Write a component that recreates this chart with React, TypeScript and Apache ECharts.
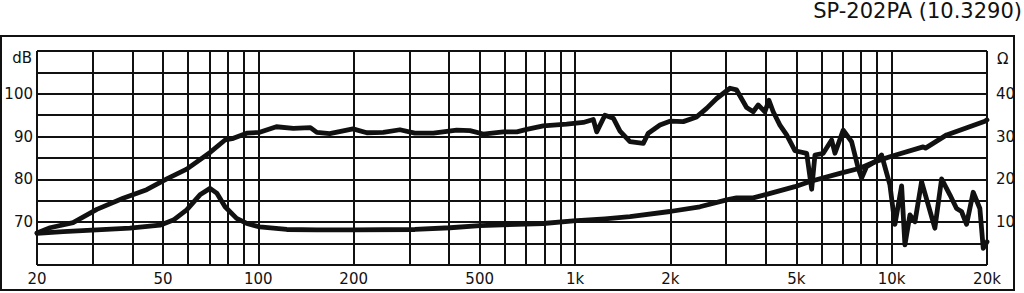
import React, { useEffect, useRef } from "react";
import * as echarts from "echarts";

const TITLE = "SP-202PA (10.3290)";

// Frequency response (dB): [Hz, dB]
const splFreq = [20, 22, 26, 30.9, 37.4, 44.4, 51.4, 59.4, 70.4, 78.5, 83.4, 91.9, 101, 114, 129, 146, 153, 168, 199, 220, 248, 280, 312, 357, 423, 466, 513, 594, 655, 704, 794, 941, 1062, 1142, 1171, 1243, 1321, 1387, 1491, 1643, 1704, 1855, 1994, 2197, 2421, 2604, 2801, 3086, 3238, 3482, 3654, 3789, 3978, 4096, 4226, 4437, 4659, 4948, 5390, 5589, 5725, 6081, 6463, 6620, 7031, 7473, 7840, 8037, 8334, 8852, 9294, 9873, 10239, 10750, 11011, 11420, 11843, 12430, 13690, 14375, 15270, 16030, 16620, 17240, 18090, 18990, 19460, 20000];
const splDb = [67.5, 68.7, 69.9, 73.0, 75.6, 77.6, 80.1, 82.4, 86.3, 89.2, 89.6, 90.8, 91.0, 92.3, 91.9, 92.1, 91.0, 90.7, 91.8, 90.9, 91.0, 91.6, 90.8, 90.8, 91.5, 91.4, 90.6, 91.1, 91.1, 91.7, 92.5, 92.9, 93.3, 94.0, 91.1, 95.0, 94.3, 91.3, 88.8, 88.4, 90.8, 92.7, 93.6, 93.5, 94.6, 96.6, 98.9, 101.3, 100.9, 96.8, 95.8, 97.4, 95.8, 98.5, 95.8, 92.7, 90.4, 86.7, 86.1, 77.7, 85.7, 86.1, 89.2, 86.1, 91.5, 88.8, 82.6, 80.3, 83.0, 84.1, 85.7, 78.7, 69.5, 78.5, 64.7, 71.7, 70.1, 79.5, 68.6, 80.1, 76.4, 73.2, 72.5, 69.5, 77.0, 73.2, 63.9, 65.4];

// Impedance (Ω): [Hz, Ω]
const impFreq = [20, 24.2, 30.9, 39.3, 48.9, 53.9, 59.4, 65.4, 70.4, 73.9, 78.5, 85.4, 91.9, 101, 123, 153, 199, 312, 403, 501, 794, 988, 1243, 1491, 1994, 2480, 3013, 3238, 3654, 4027, 4948, 5519, 6862, 7936, 8830, 9873, 12570, 12790, 14910, 19700, 20000];
const impOhm = [7.4, 7.8, 8.2, 8.6, 9.3, 10.5, 12.9, 16.4, 17.9, 16.8, 13.6, 10.9, 9.7, 8.9, 8.3, 8.2, 8.2, 8.3, 8.7, 9.2, 9.7, 10.3, 10.8, 11.3, 12.5, 13.6, 15.2, 15.7, 15.7, 16.5, 18.3, 19.5, 21.4, 22.6, 24.1, 25.3, 27.6, 27.3, 30.4, 33.6, 33.9];

// Grid lines and tick labels
const gridFreqs = [20, 30, 40, 50, 60, 70, 80, 90, 100, 200, 300, 400, 500, 600, 700, 800, 900, 1000, 2000, 3000, 4000, 5000, 6000, 7000, 8000, 9000, 10000, 20000];
const xTickFreqs = [20, 50, 100, 200, 500, 1000, 2000, 5000, 10000, 20000];
const xTickLabels = ["20", "50", "100", "200", "500", "1k", "2k", "5k", "10k", "20k"];
const dbTicks = [70, 80, 90, 100];
const ohmTicks = [10, 20, 30, 40];

const INK = "#111111";
const FONT = "DejaVu Sans";

export default function App() {
  const ref = useRef<HTMLDivElement>(null);
  useEffect(() => {
    if (!ref.current) return;
    const chart = echarts.init(ref.current, null, { renderer: "svg" });
    const gridLineData = gridFreqs.map((f) => {
      const idx = xTickFreqs.indexOf(f);
      return {
        xAxis: f,
        label: idx >= 0
          ? { show: true, position: "start", formatter: xTickLabels[idx], color: INK, fontSize: 15, fontFamily: FONT, distance: 6 }
          : { show: false },
      };
    });
    chart.setOption({
      animation: false,
      textStyle: { fontFamily: FONT },
      grid: { left: 37, right: 37, top: 51, bottom: 28, containLabel: false },
      xAxis: {
        type: "log",
        logBase: 10,
        min: 20,
        max: 20000,
        axisLine: { show: false },
        axisTick: { show: false },
        axisLabel: { show: false },
        splitLine: { show: false },
      },
      yAxis: [
        {
          type: "value",
          min: 60,
          max: 110,
          interval: 5,
          axisLine: { show: false },
          axisTick: { show: false },
          axisLabel: {
            margin: 4,
            color: INK,
            fontSize: 15,
            fontFamily: FONT,
            formatter: (v: number) => (dbTicks.includes(v) ? String(v) : ""),
          },
          splitLine: { show: true, lineStyle: { color: INK, width: 2 } },
        },
        {
          type: "value",
          min: 0,
          max: 50,
          interval: 5,
          position: "right",
          axisLine: { show: false },
          axisTick: { show: false },
          axisLabel: {
            margin: 9,
            color: INK,
            fontSize: 15,
            fontFamily: FONT,
            formatter: (v: number) => (ohmTicks.includes(v) ? String(v) : ""),
          },
          splitLine: { show: false },
        },
      ],
      series: [
        {
          type: "line",
          name: "grid",
          data: [],
          z: 1,
          silent: true,
          markLine: {
            silent: true,
            z: 1,
            symbol: ["none", "none"],
            lineStyle: { color: INK, width: 2, type: "solid" },
            emphasis: { disabled: true },
            data: gridLineData,
          },
        },
        {
          type: "line",
          name: "SPL",
          yAxisIndex: 0,
          z: 10,
          symbol: "none",
          lineStyle: { color: INK, width: 4.8, join: "round", cap: "round" },
          data: splFreq.map((f, i) => [f, splDb[i]]),
        },
        {
          type: "line",
          name: "Impedance",
          yAxisIndex: 1,
          z: 10,
          symbol: "none",
          lineStyle: { color: INK, width: 4.8, join: "round", cap: "round" },
          data: impFreq.map((f, i) => [f, impOhm[i]]),
        },
      ],
      graphic: [
        {
          type: "rect",
          shape: { x: 1, y: 36, width: 1013, height: 254 },
          style: { fill: "none", stroke: INK, lineWidth: 2 },
          silent: true,
        },
        {
          type: "text",
          style: { text: TITLE, x: 1022, y: 0, align: "right", verticalAlign: "top", fontSize: 21, lineHeight: 22, fontFamily: "DejaVu Sans", fill: INK },
        },
        {
          type: "text",
          style: { text: "dB", x: 32, y: 58, align: "right", verticalAlign: "middle", fontSize: 15, fontFamily: FONT, fill: INK },
        },
        {
          type: "text",
          style: { text: "Ω", x: 997, y: 59, align: "left", verticalAlign: "middle", fontSize: 15, fontFamily: FONT, fill: INK },
        },
      ],
    });
    return () => chart.dispose();
  }, []);
  return (
    <div
      ref={ref}
      style={{ position: "fixed", left: 0, top: 0, width: 1024, height: 293, background: "#ffffff" }}
    />
  );
}
